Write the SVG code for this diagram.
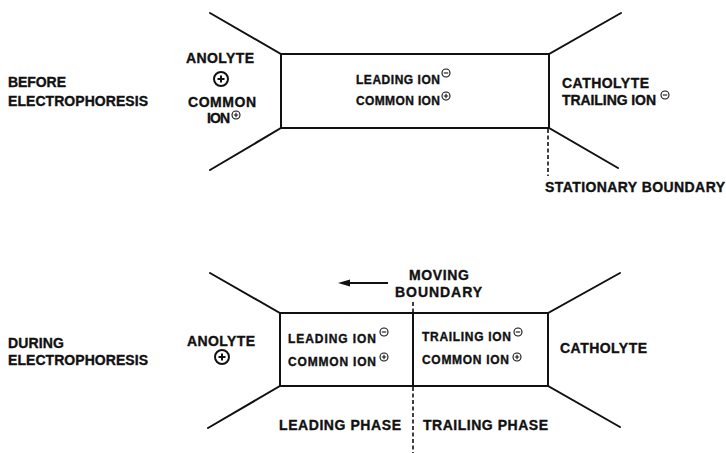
<svg xmlns="http://www.w3.org/2000/svg" xmlns:xlink="http://www.w3.org/1999/xlink" width="726" height="453" viewBox="0 0 726 453">
  <style>
    .t { font-family: "Liberation Sans", Arial, sans-serif; font-weight: bold; fill: #111; stroke: #111; stroke-width: 0.35; }
    .lg { font-size: 14px; }
    .sm { font-size: 12px; }
    .wall { fill: none; stroke: #111; stroke-width: 2; stroke-linecap: round; stroke-linejoin: miter; }
    .dash { fill: none; stroke: #111; stroke-width: 1.6; stroke-dasharray: 4 2.5; }
    .sign { fill: none; stroke: #111; stroke-width: 1.1; }
    .bigsign { fill: none; stroke: #111; stroke-width: 2; }
  </style>
  <defs>
    <g id="plusSm">
      <circle class="sign" cx="0" cy="0" r="4"/>
      <path class="sign" d="M-2.2 0H2.2M0 -2.2V2.2"/>
    </g>
    <g id="minusSm">
      <circle class="sign" cx="0" cy="0" r="4"/>
      <path class="sign" d="M-2.2 0H2.2"/>
    </g>
    <g id="plusBig">
      <circle class="bigsign" cx="0" cy="0" r="7"/>
      <path class="bigsign" d="M-3.5 0H3.5M0 -3.5V3.5"/>
    </g>
    <marker id="arrowHead" viewBox="0 0 12 8" refX="2" refY="4" markerWidth="12" markerHeight="8" markerUnits="userSpaceOnUse" orient="auto">
      <path d="M12 4L0 0.5V7.5Z" fill="#111"/>
    </marker>
  </defs>

  <!-- ===== Before electrophoresis ===== -->
  <g id="before-label">
    <text class="t lg" x="8" y="87" textLength="58">BEFORE</text>
    <text class="t lg" x="8" y="106" textLength="140">ELECTROPHORESIS</text>
  </g>

  <g id="before-cell">
    <path class="wall" d="M210 13L281 54H549L621 13"/>
    <path class="wall" d="M210 170L281 128H549L618 168"/>
    <path class="wall" d="M281 54V128M549 54V128"/>
  </g>

  <g id="before-anolyte">
    <text class="t lg" x="186" y="63" textLength="68">ANOLYTE</text>
    <use xlink:href="#plusBig" x="221" y="79"/>
    <text class="t lg" x="188" y="107" textLength="68">COMMON</text>
    <text class="t lg" x="207" y="123" textLength="23">ION</text>
    <use xlink:href="#plusSm" x="236" y="115"/>
  </g>

  <g id="before-column">
    <text class="t sm" x="356" y="84" textLength="84">LEADING ION</text>
    <use xlink:href="#minusSm" x="446" y="73"/>
    <text class="t sm" x="356" y="105" textLength="84">COMMON ION</text>
    <use xlink:href="#plusSm" x="446" y="96"/>
  </g>

  <g id="before-catholyte">
    <text class="t lg" x="562" y="88" textLength="87">CATHOLYTE</text>
    <text class="t lg" x="562" y="105" textLength="94">TRAILING ION</text>
    <use xlink:href="#minusSm" x="665" y="95"/>
  </g>

  <g id="stationary-boundary">
    <text class="t lg" x="545" y="192" textLength="180">STATIONARY BOUNDARY</text>
  </g>

  <!-- ===== During electrophoresis ===== -->
  <g id="during-label">
    <text class="t lg" x="8" y="348" textLength="56">DURING</text>
    <text class="t lg" x="8" y="365" textLength="140">ELECTROPHORESIS</text>
  </g>

  <g id="during-cell">
    <path class="wall" d="M210 273L280 313H548L620 273"/>
    <path class="wall" d="M208 428L280 386H548L620 427"/>
    <path class="wall" d="M280 313V386M548 313V386M413 313V386"/>
  </g>

  <g id="during-anolyte">
    <text class="t lg" x="187" y="346" textLength="68">ANOLYTE</text>
    <use xlink:href="#plusBig" x="222" y="357"/>
  </g>

  <g id="leading-zone">
    <text class="t sm" x="288" y="343" textLength="88">LEADING ION</text>
    <use xlink:href="#minusSm" x="384" y="332"/>
    <text class="t sm" x="288" y="366" textLength="88">COMMON ION</text>
    <use xlink:href="#plusSm" x="384" y="357"/>
  </g>

  <g id="trailing-zone">
    <text class="t sm" x="422" y="341" textLength="89">TRAILING ION</text>
    <use xlink:href="#minusSm" x="518" y="332"/>
    <text class="t sm" x="422" y="364" textLength="87">COMMON ION</text>
    <use xlink:href="#plusSm" x="517" y="357"/>
  </g>

  <g id="during-catholyte">
    <text class="t lg" x="560" y="353" textLength="87">CATHOLYTE</text>
  </g>

  <g id="moving-boundary">
    <text class="t lg" x="409" y="280" textLength="60">MOVING</text>
    <text class="t lg" x="395" y="297" textLength="87">BOUNDARY</text>
  </g>

  <g id="phase-labels">
    <text class="t lg" x="279" y="430" textLength="122">LEADING PHASE</text>
    <text class="t lg" x="423" y="430" textLength="125">TRAILING PHASE</text>
  </g>

  <!-- boundary markers and direction of travel -->
  <g id="connectors">
    <path class="dash" d="M548 129V176"/>
    <path class="dash" d="M413 302V313"/>
    <path class="dash" d="M413 387V453"/>
    <path d="M388 283H348" stroke="#111" stroke-width="2.2" fill="none" marker-end="url(#arrowHead)"/>
  </g>
</svg>
